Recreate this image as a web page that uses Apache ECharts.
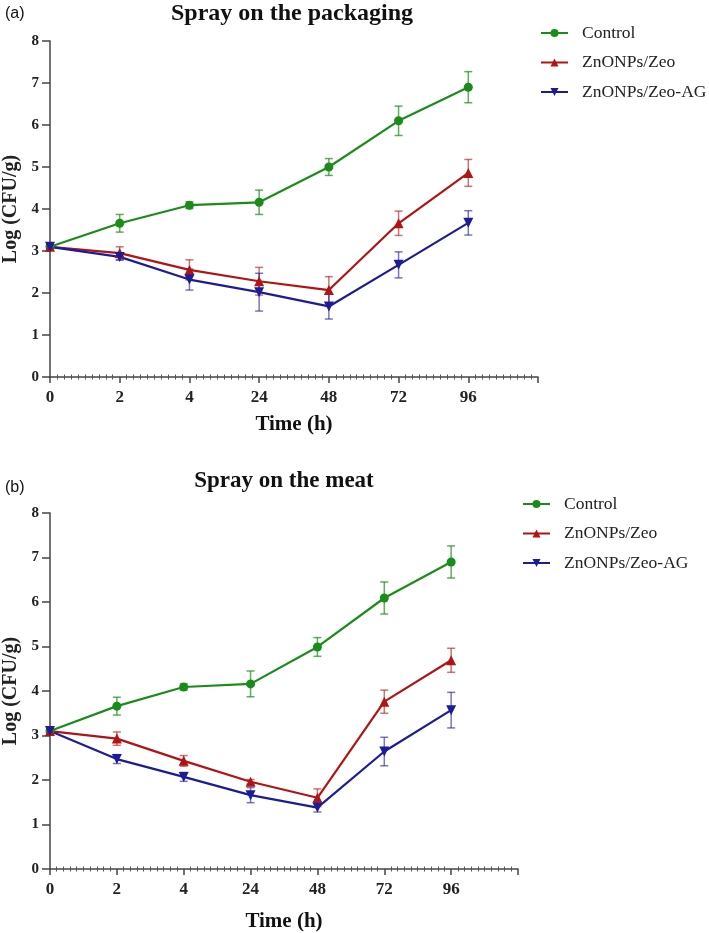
<!DOCTYPE html>
<html>
<head>
<meta charset="utf-8">
<script src="https://cdn.jsdelivr.net/npm/echarts@6/dist/echarts.min.js"></script>
<style>
    html, body { margin: 0; padding: 0; background: #fff; }
    #chart { width: 709px; height: 933px; }
</style>
</head>
<body>
<div id="chart"></div>
<script>
// time points (h), shown as evenly spaced categories
const timeLabels = ['0', '2', '4', '24', '48', '72', '96']
const seriesNames = ['Control', 'ZnONPs/Zeo', 'ZnONPs/Zeo-AG']

// (a) spray on the packaging
const packControl = [3.1, 3.66, 4.09, 4.16, 5.0, 6.1, 6.9]
const packControlErr = [0.05, 0.21, 0.08, 0.29, 0.2, 0.35, 0.37]
const packZeo = [3.1, 2.95, 2.55, 2.28, 2.07, 3.66, 4.86]
const packZeoErr = [0.05, 0.15, 0.24, 0.33, 0.32, 0.29, 0.32]
const packZeoAG = [3.1, 2.86, 2.32, 2.02, 1.68, 2.67, 3.67]
const packZeoAGErr = [0.05, 0.08, 0.25, 0.45, 0.3, 0.31, 0.29]

// (b) spray on the meat
const meatControl = [3.1, 3.66, 4.09, 4.16, 4.99, 6.09, 6.9]
const meatControlErr = [0.05, 0.2, 0.07, 0.29, 0.21, 0.36, 0.36]
const meatZeo = [3.1, 2.93, 2.43, 1.96, 1.6, 3.76, 4.69]
const meatZeoErr = [0.05, 0.15, 0.12, 0.05, 0.2, 0.26, 0.27]
const meatZeoAG = [3.1, 2.47, 2.07, 1.66, 1.38, 2.64, 3.57]
const meatZeoAGErr = [0.05, 0.1, 0.1, 0.17, 0.1, 0.32, 0.4]

const colors = ['#1a8c1a', '#b01414', '#1c1c98']
const barColors = ['rgba(26,140,26,0.7)', 'rgba(176,20,20,0.6)', 'rgba(28,28,152,0.6)']
const symbols = ['circle', 'triangle', 'triangle']
const rotates = [0, 0, 180]
const serif = 'Liberation Serif'

const chart = echarts.init(document.getElementById('chart'))

function xAxisFor(gridIndex, ghost) {
    return {
        type: 'value',
        gridIndex: gridIndex,
        position: 'bottom',
        min: 0,
        max: 7,
        interval: 1,
        name: ghost ? '' : 'Time (h)',
        nameLocation: 'middle',
        nameGap: gridIndex === 0 ? 37 : 42,
        nameTextStyle: { fontFamily: serif, fontWeight: 'bold', fontSize: 21, color: '#111' },
        axisLine: { show: !ghost, onZero: false, lineStyle: { color: '#444', width: 1.5 } },
        axisTick: { show: !ghost, inside: !!ghost, length: 6, lineStyle: { color: '#444', width: 1.5 } },
        minorTick: { show: true, splitNumber: 10, length: 2.5, lineStyle: { color: '#555', width: 1 } },
        splitLine: { show: false },
        axisLabel: {
            show: !ghost,
            margin: 12,
            fontFamily: serif,
            fontWeight: 'bold',
            fontSize: 17,
            color: '#222',
            formatter: function (v) { return timeLabels[v] !== undefined ? timeLabels[v] : '' }
        }
    }
}

function yAxisFor(gridIndex) {
    return {
        type: 'value',
        gridIndex: gridIndex,
        min: 0,
        max: 8,
        interval: 1,
        name: 'Log (CFU/g)',
        nameLocation: 'middle',
        nameGap: 26,
        nameTextStyle: { fontFamily: serif, fontWeight: 'bold', fontSize: 20, color: '#222' },
        axisLine: { show: true, lineStyle: { color: '#444', width: 1.5 } },
        axisTick: { show: true, length: 8, lineStyle: { color: '#444', width: 1.5 } },
        splitLine: { show: false },
        axisLabel: { margin: 11, fontFamily: serif, fontWeight: 'bold', fontSize: 15, color: '#222' }
    }
}

function lineSeries(name, idx, values, axisIndex) {
    return {
        name: name,
        type: 'line',
        xAxisIndex: axisIndex,
        yAxisIndex: axisIndex,
        data: values.map((v, i) => [i, v]),
        symbol: symbols[idx],
        symbolSize: idx === 0 ? 9 : 10,
        symbolRotate: rotates[idx],
        itemStyle: { color: colors[idx] },
        lineStyle: { color: colors[idx], width: 2.2 },
        z: 3
    }
}

function errSeries(idx, values, errs, axisIndex) {
    return {
        type: 'custom',
        xAxisIndex: axisIndex,
        yAxisIndex: axisIndex,
        data: values.map((v, i) => [i, v - errs[i], v + errs[i]]),
        renderItem: function (params, api) {
            const lo = api.coord([api.value(0), api.value(1)])
            const hi = api.coord([api.value(0), api.value(2)])
            const w = 4
            const style = { stroke: barColors[idx], lineWidth: 1.5 }
            return {
                type: 'group',
                children: [
                    { type: 'line', shape: { x1: lo[0], y1: lo[1], x2: hi[0], y2: hi[1] }, style: style },
                    { type: 'line', shape: { x1: lo[0] - w, y1: lo[1], x2: lo[0] + w, y2: lo[1] }, style: style },
                    { type: 'line', shape: { x1: hi[0] - w, y1: hi[1], x2: hi[0] + w, y2: hi[1] }, style: style }
                ]
            }
        },
        z: 2,
        silent: true
    }
}

const panels = [
    [packControl, packZeo, packZeoAG],
    [meatControl, meatZeo, meatZeoAG]
]
const panelErrs = [
    [packControlErr, packZeoErr, packZeoAGErr],
    [meatControlErr, meatZeoErr, meatZeoAGErr]
]

let series = []
panels.forEach((group, g) => {
    group.forEach((values, idx) => {
        series.push(lineSeries(seriesNames[idx], idx, values, g))
        series.push(errSeries(idx, values, panelErrs[g][idx], g))
    })
})

function legendFor(left, top) {
    return {
        data: seriesNames,
        orient: 'vertical',
        left: left,
        top: top,
        itemWidth: 27,
        itemHeight: 10,
        itemGap: 11.5,
        selectedMode: false,
        textStyle: { fontFamily: serif, fontSize: 17.5, color: '#222', padding: [0, 0, 0, 9] }
    }
}

chart.setOption({
    animation: false,
    title: [
        { text: '(a)', left: 5, top: 6, padding: 0, textStyle: { fontFamily: 'Liberation Sans', fontSize: 16, fontWeight: 'normal', color: '#111' } },
        { text: 'Spray on the packaging', left: 292, top: 2, padding: 0, textAlign: 'center', textStyle: { fontFamily: serif, fontSize: 24, fontWeight: 'bold', color: '#111' } },
        { text: '(b)', left: 5, top: 480, padding: 0, textStyle: { fontFamily: 'Liberation Sans', fontSize: 16, fontWeight: 'normal', color: '#111' } },
        { text: 'Spray on the meat', left: 284, top: 470, padding: 0, textAlign: 'center', textStyle: { fontFamily: serif, fontSize: 23, fontWeight: 'bold', color: '#111' } }
    ],
    legend: [legendFor(535, 19), legendFor(517, 490)],
    grid: [
        { left: 50, top: 41, width: 488, height: 336, outerBoundsMode: 'none' },
        { left: 50, top: 513, width: 468, height: 356, outerBoundsMode: 'none' }
    ],
    xAxis: [xAxisFor(0, false), xAxisFor(1, false), xAxisFor(0, true), xAxisFor(1, true)],
    yAxis: [yAxisFor(0), yAxisFor(1)],
    series: series
})
</script>
</body>
</html>
